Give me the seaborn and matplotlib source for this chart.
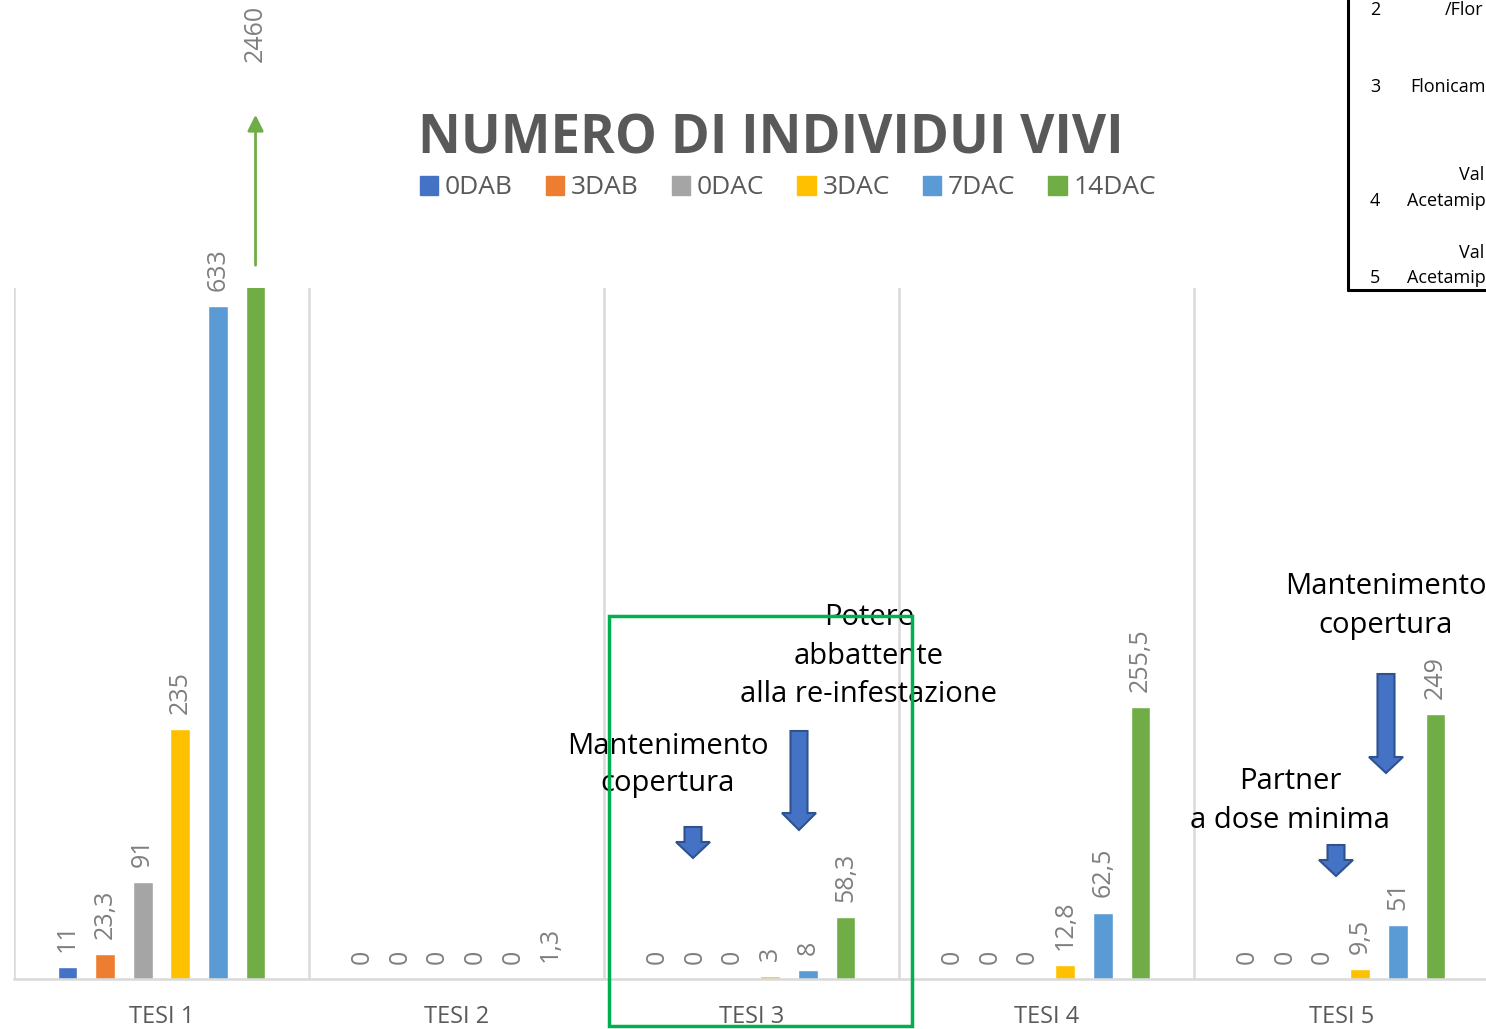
import matplotlib
matplotlib.use("Agg")
import matplotlib.pyplot as plt
import seaborn as sns
import pandas as pd
from matplotlib.patches import Polygon, Rectangle
from matplotlib.lines import Line2D

# dati
tesi = ["TESI 1", "TESI 2", "TESI 3", "TESI 4", "TESI 5"]
serie = ["0DAB", "3DAB", "0DAC", "3DAC", "7DAC", "14DAC"]
val_0dab = [11, 0, 0, 0, 0]
val_3dab = [23.3, 0, 0, 0, 0]
val_0dac = [91, 0, 0, 0, 0]
val_3dac = [235, 0, 3, 12.8, 9.5]
val_7dac = [633, 0, 8, 62.5, 51]
val_14dac = [2460, 1.3, 58.3, 255.5, 249]
colori = ["#4472C4", "#ED7D31", "#A5A5A5", "#FFC000", "#5B9BD5", "#70AD47"]
Y_MAX = 650

W, H = 1486, 1029

def fx(px):
    return px / W

def fy(py):
    return 1 - py / H

rows = []
for s, vals in zip(serie, [val_0dab, val_3dab, val_0dac, val_3dac, val_7dac, val_14dac]):
    for t, v in zip(tesi, vals):
        rows.append({"tesi": t, "serie": s, "valore": v})
df = pd.DataFrame(rows)

sns.set_style("white")
plt.rcParams["font.family"] = ["Open Sans", "DejaVu Sans"]

fig = plt.figure(figsize=(W / 100, H / 100), dpi=100)
ax = fig.add_axes([fx(14), fy(979), fx(1489) - fx(14), fy(288) - fy(979)])

sns.barplot(data=df, x="tesi", y="valore", hue="serie", palette=colori,
            width=0.765, gap=0.47, errorbar=None, legend=False, saturation=1, ax=ax)

ax.set_ylim(0, Y_MAX)
ax.set_xlim(-0.5, 4.5)
ax.set_yticks([])
ax.set_xlabel("")
ax.set_ylabel("")
for sp in ["top", "left", "right"]:
    ax.spines[sp].set_visible(False)
ax.spines["bottom"].set_color("#D9D9D9")
ax.spines["bottom"].set_linewidth(1.8)

ax.set_xticks(range(len(tesi)))
ax.set_xticklabels(tesi, color="#595959", fontsize=17)
ax.tick_params(axis="x", which="major", length=0, pad=19)
ax.set_xticks([i - 0.5 for i in range(len(tesi) + 1)], minor=True)
ax.tick_params(axis="x", which="minor", length=11, color="#D9D9D9", width=1.8)
ax.grid(False)
for b in [i - 0.5 for i in range(len(tesi) + 1)]:
    ax.axvline(b, color="#D9D9D9", lw=1.8, zorder=0)

def fmt(v):
    if float(v).is_integer():
        return str(int(v))
    return f"{v:.1f}".replace(".", ",")

# etichette dei valori
for cont, s in zip(ax.containers, serie):
    labs = []
    for bar in cont:
        h = bar.get_height()
        labs.append("" if h > Y_MAX else fmt(h))
    ax.bar_label(cont, labels=labs, rotation=90, padding=11, fontsize=18,
                 color="#7F7F7F", clip_on=False)

# barra fuori scala (2460)
big = ax.containers[-1][0]
xb = big.get_x() + big.get_width() / 2
tr = ax.get_xaxis_transform()
ax.annotate("", xy=(xb, (979 - 112) / 691), xytext=(xb, (979 - 268) / 691),
            xycoords=tr, textcoords=tr,
            arrowprops=dict(arrowstyle="-|>", color="#70AD47", lw=2, mutation_scale=24),
            annotation_clip=False)
ax.text(xb, (979 - 33) / 691, fmt(big.get_height()), transform=tr, rotation=90,
        ha="center", va="center", fontsize=18, color="#7F7F7F", clip_on=False)

# titolo e legenda
fig.text(fx(771), fy(140), "NUMERO DI INDIVIDUI VIVI", ha="center", va="center",
         fontsize=38, fontweight="bold", color="#595959")
handles = [Rectangle((0, 0), 1, 1, color=c) for c in colori]
leg = fig.legend(handles, serie, loc="center", bbox_to_anchor=(fx(788), fy(188)),
                 ncol=6, frameon=False, fontsize=19, handlelength=0.7, handleheight=0.7,
                 handletextpad=0.25, columnspacing=1.25)
for t in leg.get_texts():
    t.set_color("#595959")

# frecce blu
def freccia(xc, y_top, y_head, y_tip, shaft=17, head=34):
    pts = [(xc - shaft / 2, y_top), (xc + shaft / 2, y_top), (xc + shaft / 2, y_head),
           (xc + head / 2, y_head), (xc, y_tip), (xc - head / 2, y_head),
           (xc - shaft / 2, y_head)]
    pts = [(fx(a), fy(b)) for a, b in pts]
    fig.add_artist(Polygon(pts, closed=True, facecolor="#4472C4", edgecolor="#2F528F",
                           lw=1.5, transform=fig.transFigure))

freccia(693, 827, 842, 858)
freccia(799, 731, 813, 830)
freccia(1386, 674, 757, 773)
freccia(1336, 845, 860, 876)

# testi di commento
kw = dict(ha="center", va="center", fontsize=21, color="black")
fig.text(fx(869), fy(656), "Potere\nabbattente\nalla re-infestazione", linespacing=1.45, **kw)
fig.text(fx(668), fy(765), "Mantenimento\ncopertura", linespacing=1.35, **kw)
fig.text(fx(1386), fy(606), "Mantenimento\ncopertura", linespacing=1.45, **kw)
fig.text(fx(1290), fy(801), "Partner\na dose minima", linespacing=1.42, **kw)

# riquadro verde
fig.add_artist(Rectangle((fx(609), fy(1026)), fx(912) - fx(609), fy(616) - fy(1026),
                         fill=False, edgecolor="#00B050", lw=2.5, transform=fig.transFigure,
                         zorder=10))

# tabella tagliata in alto a destra
fig.add_artist(Line2D([fx(1348), fx(1348)], [1, fy(290)], color="black", lw=2.2))
fig.add_artist(Line2D([fx(1348), 1], [fy(290), fy(290)], color="black", lw=2.2))
tk = dict(fontsize=13, color="black", va="center")
fig.text(fx(1370), fy(10), "2", **tk)
fig.text(fx(1445), fy(10), "/Flor", **tk)
fig.text(fx(1370), fy(87), "3", **tk)
fig.text(fx(1410), fy(87), "Flonicam", **tk)
fig.text(fx(1459), fy(175), "Val", **tk)
fig.text(fx(1370), fy(201), "4", **tk)
fig.text(fx(1407), fy(201), "Acetamip", **tk)
fig.text(fx(1459), fy(253), "Val", **tk)
fig.text(fx(1370), fy(278), "5", **tk)
fig.text(fx(1407), fy(278), "Acetamip", **tk)

fig.savefig("out.png", dpi=100)
